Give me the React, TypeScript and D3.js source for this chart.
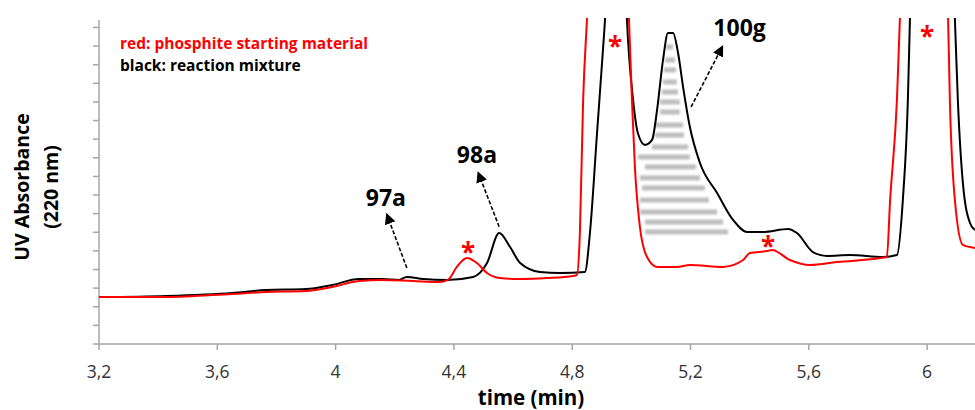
import React from 'react';
import * as d3 from 'd3';

// ---- data (time in min, absorbance in arbitrary units) ----
const blackTime = [3.2, 3.427, 3.65, 3.765, 3.9, 3.988, 4.079, 4.157, 4.214, 4.241, 4.296, 4.377, 4.465, 4.512, 4.553, 4.59, 4.624, 4.691, 4.759, 4.843, 4.86, 4.884, 4.904, 4.911, 4.948, 4.985, 5.006, 5.022, 5.046, 5.07, 5.087, 5.107, 5.124, 5.141, 5.158, 5.175, 5.198, 5.232, 5.29, 5.344, 5.391, 5.445, 5.53, 5.56, 5.614, 5.661, 5.739, 5.851, 5.898, 5.918, 5.935, 5.942, 6.017, 6.094, 6.104, 6.121, 6.145, 6.162];
const blackAbs = [2.52, 2.58, 2.74, 2.9, 2.95, 3.17, 3.49, 3.49, 3.44, 3.6, 3.49, 3.44, 3.6, 4.35, 5.96, 5.21, 4.35, 3.87, 3.81, 3.87, 5.96, 11.33, 15.79, 17.45, 40, 17.45, 13.1, 11.33, 10.69, 10.96, 12.57, 15.25, 16.7, 16.7, 15.63, 13.8, 11.65, 9.72, 8.11, 6.66, 6.02, 6.02, 6.18, 5.96, 4.94, 4.73, 4.78, 4.67, 4.78, 7.73, 13.1, 17.45, 40, 17.45, 13.1, 8.65, 6.5, 6.12];

const redTime = [3.2, 3.427, 3.65, 3.765, 3.9, 3.988, 4.079, 4.157, 4.262, 4.353, 4.38, 4.41, 4.444, 4.478, 4.512, 4.556, 4.624, 4.715, 4.803, 4.816, 4.826, 4.837, 4.85, 4.921, 4.992, 5.002, 5.012, 5.029, 5.053, 5.087, 5.154, 5.198, 5.31, 5.378, 5.401, 5.459, 5.476, 5.536, 5.604, 5.695, 5.864, 5.875, 5.898, 5.908, 5.99, 6.071, 6.077, 6.094, 6.121, 6.162];
const redAbs = [2.52, 2.52, 2.69, 2.79, 2.85, 3.06, 3.38, 3.44, 3.38, 3.33, 3.44, 4.14, 4.62, 4.35, 3.81, 3.54, 3.49, 3.54, 3.65, 3.71, 5.96, 13.1, 17.45, 40, 17.45, 13.1, 9.51, 6.28, 4.67, 4.14, 4.14, 4.24, 4.14, 4.51, 4.89, 4.99, 5.05, 4.51, 4.24, 4.4, 4.67, 7.73, 13.1, 17.45, 40, 17.45, 13.1, 7.73, 5.32, 5.16];

// hatching of the 100g area
const hatchLevel = [15.95, 15.25, 14.72, 14.07, 13.53, 13.0, 12.46, 11.76, 11.22, 10.58, 10.04, 9.51, 8.92, 8.38, 7.73, 7.09, 6.55, 6.02];
const hatchStart = [5.117, 5.114, 5.11, 5.107, 5.103, 5.097, 5.097, 5.08, 5.08, 5.07, 5.023, 5.046, 5.029, 5.036, 5.029, 5.029, 5.046, 5.046];
const hatchEnd = [5.141, 5.148, 5.151, 5.154, 5.158, 5.164, 5.164, 5.175, 5.178, 5.192, 5.198, 5.219, 5.232, 5.249, 5.262, 5.29, 5.31, 5.327];

// red asterisks
const starTime = [4.448, 4.945, 5.462, 6.0];
const starAbs = [5.16, 16.22, 5.48, 16.76];

// compound labels and arrows
const labelText = ['97a', '98a', '100g'];
const labelTime = [4.17, 4.478, 5.366];
const labelAbs = [7.84, 10.15, 16.97];
const arrowFromTime = [4.241, 4.553, 5.202];
const arrowFromAbs = [4.08, 6.3, 12.73];
const arrowToTime = [4.174, 4.483, 5.307];
const arrowToAbs = [6.93, 9.17, 15.95];

const xTicks = [3.2, 3.6, 4.0, 4.4, 4.8, 5.2, 5.6, 6.0];
const xTickLabels = ['3,2', '3,6', '4', '4,4', '4,8', '5,2', '5,6', '6'];
const yTicks = [0, 1, 2, 3, 4, 5, 6, 7, 8, 9, 10, 11, 12, 13, 14, 15, 16, 17];

const W = 975;
const H = 410;
const left = 99;
const right = 975;
const top = 20;
const bottom = 344;

export default function App() {
  const x = d3.scaleLinear().domain([3.2, 6.162]).range([left, right]);
  const y = d3.scaleLinear().domain([0, 17.4]).range([bottom, top]);

  const line = d3
    .line<[number, number]>()
    .x((d) => x(d[0]))
    .y((d) => y(d[1]))
    .curve(d3.curveMonotoneX);

  const black = line(blackTime.map((t, i) => [t, blackAbs[i]]) as [number, number][]) || '';
  const red = line(redTime.map((t, i) => [t, redAbs[i]]) as [number, number][]) || '';

  const font = '"Open Sans", Lato, sans-serif';
  const axisColor = '#a6a6a6';

  return (
    <div style={{ position: 'fixed', left: 0, top: 0 }}>
      <svg width={W} height={H} style={{ display: 'block', background: '#fff' }}>
        <defs>
          <clipPath id="plot">
            <rect x={left} y={top - 2} width={right - left} height={bottom - top + 2} />
          </clipPath>
          <filter id="blur" x="-10%" y="-100%" width="120%" height="300%">
            <feGaussianBlur stdDeviation="1.1" />
          </filter>
          <marker id="ah" viewBox="0 0 10 10" refX="8" refY="5" markerWidth="7" markerHeight="7" orient="auto" markerUnits="strokeWidth">
            <path d="M0,0 L10,5 L0,10 z" fill="#000" />
          </marker>
        </defs>

        {/* hatching */}
        <g filter="url(#blur)">
          {hatchLevel.map((lv, i) => (
            <rect
              key={i}
              x={x(hatchStart[i])}
              y={y(lv) - 2.5}
              width={x(hatchEnd[i]) - x(hatchStart[i])}
              height={5}
              fill="#bdbdbd"
            />
          ))}
        </g>

        {/* axes */}
        <line x1={left} x2={left} y1={top} y2={bottom} stroke={axisColor} strokeWidth={1.5} />
        <line x1={left} x2={right} y1={bottom} y2={bottom} stroke={axisColor} strokeWidth={1.5} />
        {yTicks.map((v) => (
          <line key={v} x1={left - 6} x2={left} y1={y(v)} y2={y(v)} stroke={axisColor} strokeWidth={1.5} />
        ))}
        {xTicks.map((v, i) => (
          <g key={v}>
            <line x1={x(v)} x2={x(v)} y1={bottom} y2={bottom + 6} stroke={axisColor} strokeWidth={1.5} />
            <text x={x(v)} y={378} textAnchor="middle" fontFamily={font} fontSize={17.5} fill="#333">
              {xTickLabels[i]}
            </text>
          </g>
        ))}

        {/* curves */}
        <g clipPath="url(#plot)">
          <path d={black} fill="none" stroke="#000" strokeWidth={2} strokeLinejoin="round" />
          <path d={red} fill="none" stroke="#ff0000" strokeWidth={2} strokeLinejoin="round" />
        </g>

        {/* asterisks */}
        {starTime.map((t, i) => (
          <text key={i} x={x(t)} y={y(starAbs[i]) + 14} textAnchor="middle" fontFamily={font} fontWeight={700} fontSize={26} fill="#ff0000">
            *
          </text>
        ))}

        {/* arrows */}
        {arrowFromTime.map((t, i) => (
          <line
            key={i}
            x1={x(t)}
            y1={y(arrowFromAbs[i])}
            x2={x(arrowToTime[i])}
            y2={y(arrowToAbs[i])}
            stroke="#000"
            strokeWidth={1.6}
            strokeDasharray="4,2"
            markerEnd="url(#ah)"
          />
        ))}

        {/* labels */}
        {labelText.map((s, i) => (
          <text key={s} x={x(labelTime[i])} y={y(labelAbs[i])} dy="0.36em" textAnchor="middle" fontFamily={font} fontWeight={700} fontSize={23} fill="#000">
            {s}
          </text>
        ))}

        {/* legend */}
        <text x={120} y={49} fontFamily={font} fontWeight={700} fontSize={15.5} fill="#ff0000">
          red: phosphite starting material
        </text>
        <text x={120} y={71} fontFamily={font} fontWeight={700} fontSize={15.5} fill="#000">
          black: reaction mixture
        </text>

        {/* axis titles */}
        <text transform="translate(29,187) rotate(-90)" textAnchor="middle" fontFamily={font} fontWeight={700} fontSize={19.5} fill="#000">
          UV Absorbance
        </text>
        <text transform="translate(58,187) rotate(-90)" textAnchor="middle" fontFamily={font} fontWeight={700} fontSize={19.5} fill="#000">
          (220 nm)
        </text>
        <text x={531} y={405} textAnchor="middle" fontFamily={font} fontWeight={700} fontSize={20.5} fill="#000">
          time (min)
        </text>
      </svg>
    </div>
  );
}
